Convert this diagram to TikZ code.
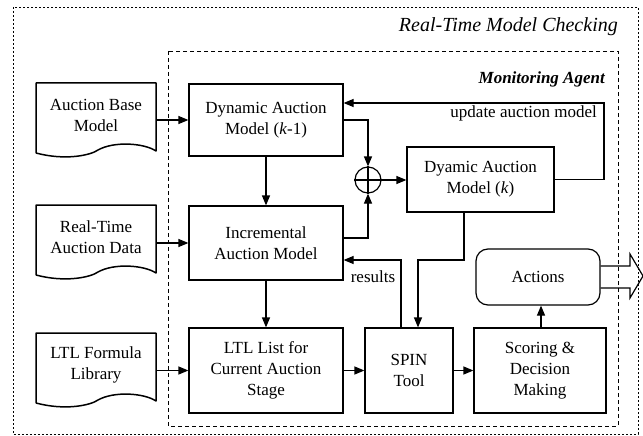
\documentclass[tikz,border=0pt]{standalone}
\usepackage{fontspec}
\setmainfont{Liberation Serif}
\usetikzlibrary{arrows.meta,calc}
\begin{document}
\begin{tikzpicture}[x=1pt,y=-1pt,
  txt/.style={font=\fontsize{17}{21}\selectfont, align=center, inner sep=0pt},
  blk/.style={txt, draw, line width=1.2pt},
  docnode/.style={txt, minimum width=120pt},
  docline/.style={line width=1.5pt, line join=round},
  arr/.style={line width=1.2pt, -{Triangle[length=10pt,width=8pt]}},
  conn/.style={line width=1.2pt},
  lbl/.style={font=\fontsize{17}{21}\selectfont, inner sep=1pt}]
\useasboundingbox (0,0) rectangle (643,436);
% dashed frames
\draw[line width=0.8pt, dash pattern=on 2pt off 2pt] (13,7) rectangle (638,434);
\draw[line width=0.9pt, dash pattern=on 4pt off 3pt] (168,51) rectangle (618,426);
\node[anchor=east, inner sep=0pt, font=\fontsize{20}{24}\selectfont\itshape] (title) at (618,27) {Real-Time Model Checking};
\node[anchor=east, inner sep=0pt, font=\fontsize{17}{20}\selectfont\bfseries\itshape] (agent) at (605,79) {Monitoring Agent};
% document shapes
\newcommand\docpath[2]{%
  \draw[docline] (#1,#2+70) -- (#1,#2) -- (#1+120,#2) -- (#1+120,#2+68)
    .. controls (#1+108,#2+60) and (#1+78,#2+58) .. (#1+62,#2+67)
    .. controls (#1+55,#2+72) and (#1+30,#2+78) .. (#1,#2+70);}
\docpath{36}{83}
\docpath{36}{205}
\docpath{36}{333}
\node[docnode] (abm) at (96,115) {Auction Base\\Model};
\node[docnode] (rtad) at (96,237.5) {Real-Time\\Auction Data};
\node[docnode] (ltlf) at (96,364.5) {LTL Formula\\Library};
% blocks
\node[blk, minimum width=154pt, minimum height=72pt] (dyn1) at (266,120) {Dynamic Auction\\Model (\textit{k}-1)};
\node[blk, minimum width=154pt, minimum height=74pt] (inc) at (266,243) {Incremental\\Auction Model};
\node[blk, minimum width=154pt, minimum height=85pt] (ltl) at (266,370.5) {LTL List for\\Current Auction\\Stage};
\node[blk, minimum width=147pt, minimum height=65pt] (dynk) at (480.5,179.5) {Dyamic Auction\\Model (\textit{k})};
\node[blk, minimum width=88pt, minimum height=85pt] (spin) at (409,370.5) {SPIN\\Tool};
\node[blk, minimum width=132pt, minimum height=85pt] (score) at (540,370.5) {Scoring \&\\Decision\\Making};
\node[blk, rounded corners=12pt, minimum width=124pt, minimum height=56pt] (act) at (538,277) {Actions};
\node[draw, circle, line width=1.2pt, minimum size=26pt, inner sep=0pt] (plus) at (368,180) {};
\draw[conn] (plus.north) -- (plus.south) (plus.west) -- (plus.east);
% connectors
\draw[arr] (abm.east |- dyn1.west) -- (dyn1.west);
\draw[arr] (rtad.east |- inc.west) -- (inc.west);
\draw[arr] (ltlf.east |- ltl.west) -- (ltl.west);
\draw[arr] (dyn1.south) -- (inc.north);
\draw[arr] (inc.south) -- (ltl.north);
\draw[arr] (dyn1.east) -| (plus.north);
\draw[arr] ([yshift=5pt]inc.east) -| (plus.south);
\draw[arr] (plus.east) -- (dynk.west |- plus.east);
\coordinate (updc) at (604,103);
\draw[arr] (dynk.east) -| (updc) -- (updc -| dyn1.east);
\node[lbl, anchor=north east] (updl) at (598,105) {update auction model};
\coordinate (resc) at (401,260);
\draw[arr] (spin.north -| resc) -- (resc) -- (resc -| inc.east);
\node[lbl] (resl) at (373,277) {results};
\coordinate (dkc) at (464,260);
\draw[arr] (dynk.south -| dkc) -- (dkc) -| ([xshift=9pt]spin.north);
\draw[arr] (ltl.east) -- (spin.west);
\draw[arr] (spin.east) -- (score.west);
\draw[arr] ([xshift=1pt]score.north) -- ([xshift=1pt]score.north |- act.south);
% hollow output arrow
\coordinate (outc) at (643,276);
\draw[line width=1.2pt, line join=miter] ([yshift=11pt]act.east) -- (630,266) -- (630,254) -- (outc) -- (630,298) -- (630,288) -- ([yshift=-11pt]act.east);
\end{tikzpicture}
\end{document}
